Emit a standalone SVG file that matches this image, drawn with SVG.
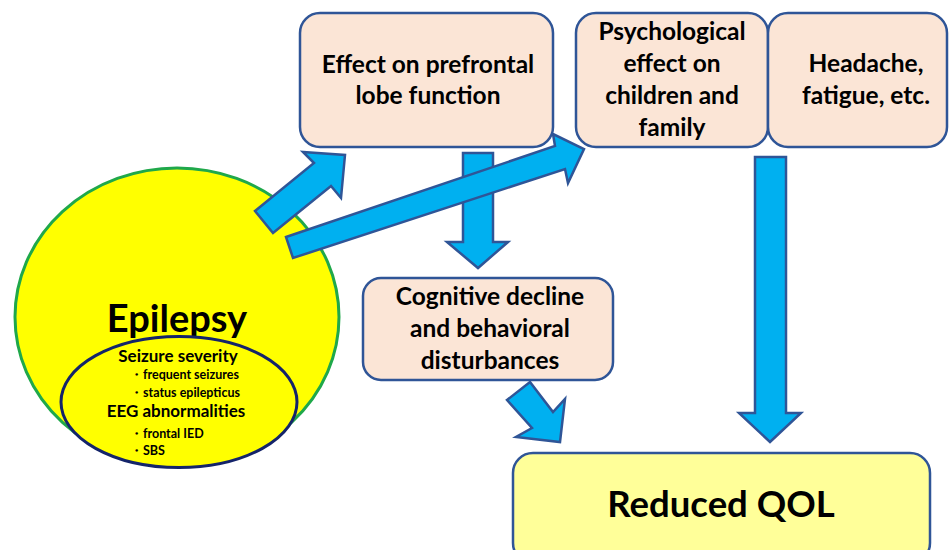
<svg xmlns="http://www.w3.org/2000/svg" width="949" height="550" viewBox="0 0 949 550">
<style>
.box{fill:#fbe5d6;stroke:#2f5597;stroke-width:2.5}
.qol{fill:#ffff99;stroke:#2f5597;stroke-width:2.5}
.arrow{fill:#00b0f0;stroke:#2f5597;stroke-width:2.5;stroke-linejoin:miter}
text{font-family:Lato,"Liberation Sans",sans-serif;font-weight:bold;fill:#000}
.t{font-size:24.5px;text-anchor:middle}
.s{font-size:17px;text-anchor:middle}
.b{font-size:12.5px}
</style>
<rect width="949" height="550" fill="#fff"/>
<g id="epilepsy">
<ellipse cx="177" cy="317" rx="162" ry="149" fill="#ffff00" stroke="#1fa84a" stroke-width="3"/>
<text x="177" y="332" style="font-size:38px;text-anchor:middle">Epilepsy</text>
<ellipse cx="179" cy="402" rx="118" ry="65.5" fill="#ffff00" stroke="#14246a" stroke-width="3"/>
<text class="s" x="178" y="362">Seizure severity</text>
<text class="b" x="130" y="379">・frequent seizures</text>
<text class="b" x="130" y="397">・status epilepticus</text>
<text class="s" x="176" y="417">EEG abnormalities</text>
<text class="b" x="130" y="438">・frontal IED</text>
<text class="b" x="130" y="455">・SBS</text>
</g>
<g id="cognitive">
<rect class="box" x="363" y="278" width="250" height="102" rx="18"/>
<text class="t" x="490" y="305">Cognitive decline</text>
<text class="t" x="490" y="337">and behavioral</text>
<text class="t" x="490" y="369">disturbances</text>
</g>
<g id="qol">
<rect class="qol" x="513" y="453" width="417" height="110" rx="20"/>
<text x="721" y="517" style="font-size:36.5px;text-anchor:middle">Reduced QOL</text>
</g>
<g id="connectors">
<polygon class="arrow" points="463,153 493,153 493,242 508,242 478,268 447,242 463,242"/>
<polygon class="arrow" points="755,157 786,157 786,413 801,413 770,442 739,413 755,413"/>
<polygon class="arrow" points="507,400 530,382 553,412 565,399 560,442 516,437 532,428"/>
<polygon class="arrow" points="255,211 314,163 303,152 345,155 341,198 331,186 273,233"/>
<polygon class="arrow" points="286,237 555,146 553,134 584,149 568,183 565,169 293,258"/>
</g>
<g id="prefrontal">
<rect class="box" x="300" y="13" width="253" height="134" rx="20"/>
<text class="t" x="428" y="73">Effect on prefrontal</text>
<text class="t" x="428" y="104">lobe function</text>
</g>
<g id="psychological">
<rect class="box" x="576" y="13" width="192" height="134" rx="20"/>
<text class="t" x="672" y="40">Psychological</text>
<text class="t" x="672" y="72">effect on</text>
<text class="t" x="672" y="104">children and</text>
<text class="t" x="672" y="136">family</text>
</g>
<g id="headache">
<rect class="box" x="768" y="13" width="179" height="134" rx="20"/>
<text class="t" x="866" y="72">Headache,</text>
<text class="t" x="866" y="104">fatigue, etc.</text>
</g>
</svg>
